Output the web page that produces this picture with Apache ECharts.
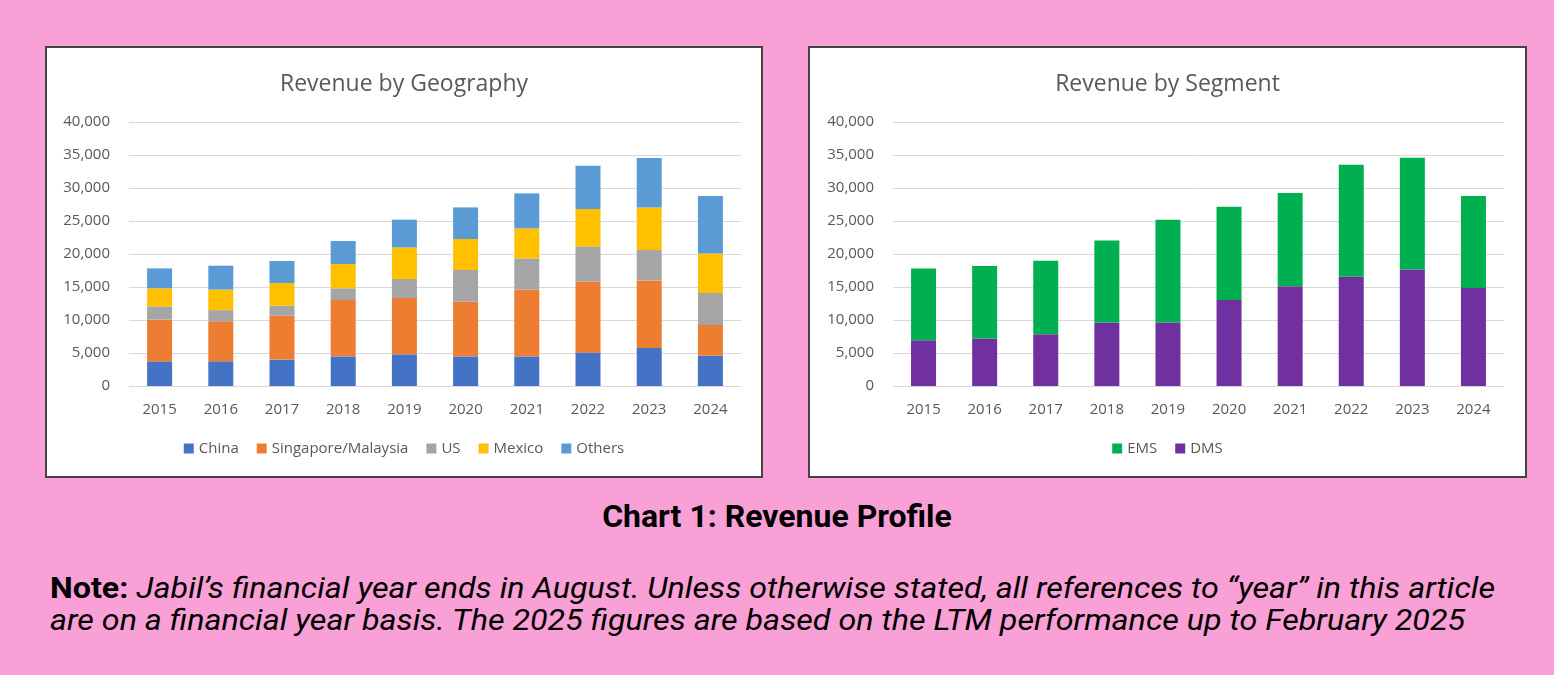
<!DOCTYPE html>
<html>
<head>
    <meta charset="UTF-8">
    <title>Revenue Profile</title>
    <script src="https://cdn.jsdelivr.net/npm/echarts@6/dist/echarts.min.js"></script>
    <style>
        body { margin: 0; background: #f9a0d6; width: 1554px; height: 675px; overflow: hidden; position: relative; font-family: Roboto, sans-serif; }
        .panel { position: absolute; top: 46px; height: 428px; background: #fff; border: 2px solid #444; }
        #left_panel { left: 45px; width: 714px; }
        #right_panel { left: 808px; width: 715px; }
        .chart { width: 100%; height: 100%; }
        .caption { position: absolute; left: 0; width: 1554px; top: 497px; text-align: center; font-weight: bold; font-size: 32px; color: #000; }
        .note { position: absolute; left: 50px; top: 572px; font-size: 30px; line-height: 32px; color: #000; font-style: italic; white-space: nowrap; transform-origin: 0 0; }
        .note b { font-style: normal; }
    </style>
</head>
<body>
    <div id="left_panel" class="panel"><div id="geo" class="chart"></div></div>
    <div id="right_panel" class="panel"><div id="seg" class="chart"></div></div>
    <div class="caption" id="caption">Chart 1: Revenue Profile</div>
    <div class="note" id="note"><b>Note:</b> Jabil’s financial year ends in August. Unless otherwise stated, all references to “year” in this article<br>are on a financial year basis. The 2025 figures are based on the LTM performance up to February 2025</div>

    <script type="text/javascript">
        var years = ['2015', '2016', '2017', '2018', '2019', '2020', '2021', '2022', '2023', '2024'];

        // revenue by geography (US$ m)
        var china     = [3730, 3750, 4000, 4490, 4800, 4490, 4490, 5090, 5760, 4590];
        var singapore = [6320, 6050, 6650, 8540, 8530, 8280, 10100, 10710, 10240, 4650];
        var us        = [2010, 1700, 1520, 1770, 2880, 4810, 4740, 5350, 4600, 4850];
        var mexico    = [2740, 3100, 3430, 3680, 4790, 4690, 4550, 5670, 6460, 6000];
        var others    = [3020, 3630, 3340, 3490, 4200, 4790, 5310, 6560, 7490, 8700];

        // revenue by segment
        var dms = [6940, 7190, 7850, 9620, 9620, 13020, 15100, 16560, 17670, 14850];
        var ems = [10880, 10990, 11140, 12410, 15580, 14130, 14150, 16950, 16900, 13940];

        var font = '"Open Sans", sans-serif';
        var txt = '#595959';

        function baseOption(title, grid) {
            return {
                animation: false,
                title: {
                    text: title, left: 'center', top: 20,
                    textStyle: { fontFamily: font, fontSize: 23, fontWeight: 'normal', color: txt }
                },
                grid: grid,
                legend: {
                    bottom: 15, itemWidth: 10, itemHeight: 10, itemGap: 18,
                    icon: 'rect',
                    textStyle: { fontFamily: font, fontSize: 15, color: txt }
                },
                xAxis: {
                    type: 'category', data: years,
                    axisLine: { show: false }, axisTick: { show: false },
                    axisLabel: { fontFamily: font, fontSize: 15, color: txt, margin: 16 }
                },
                yAxis: {
                    type: 'value', min: 0, max: 40000, interval: 5000,
                    axisLine: { show: false }, axisTick: { show: false },
                    splitLine: { lineStyle: { color: '#d9d9d9', width: 1 } },
                    axisLabel: {
                        fontFamily: font, fontSize: 15, color: txt, margin: 19,
                        formatter: function (v) { return v.toLocaleString('en-US'); }
                    }
                }
            };
        }

        function bar(name, data, color) {
            return { name: name, type: 'bar', stack: 'total', data: data, barWidth: 25, itemStyle: { color: color } };
        }

        var geoChart = echarts.init(document.getElementById('geo'));
        var geo = baseOption('Revenue by Geography', { left: 82, right: 20, top: 74, height: 264 });
        geo.series = [
            bar('China', china, '#4472c4'),
            bar('Singapore/Malaysia', singapore, '#ed7d31'),
            bar('US', us, '#a5a5a5'),
            bar('Mexico', mexico, '#ffc000'),
            bar('Others', others, '#5b9bd5')
        ];
        geoChart.setOption(geo);

        var segChart = echarts.init(document.getElementById('seg'));
        var seg = baseOption('Revenue by Segment', { left: 83, right: 21, top: 74, height: 264 });
        seg.legend.data = ['EMS', 'DMS'];
        seg.series = [
            bar('DMS', dms, '#7030a0'),
            bar('EMS', ems, '#00b050')
        ];
        segChart.setOption(seg);

        // squeeze the note to the width it has in the picture
        var note = document.getElementById('note');
        var w = note.getBoundingClientRect().width;
        note.style.transform = 'scaleX(' + (1445 / w) + ')';
    </script>
</body>
</html>
